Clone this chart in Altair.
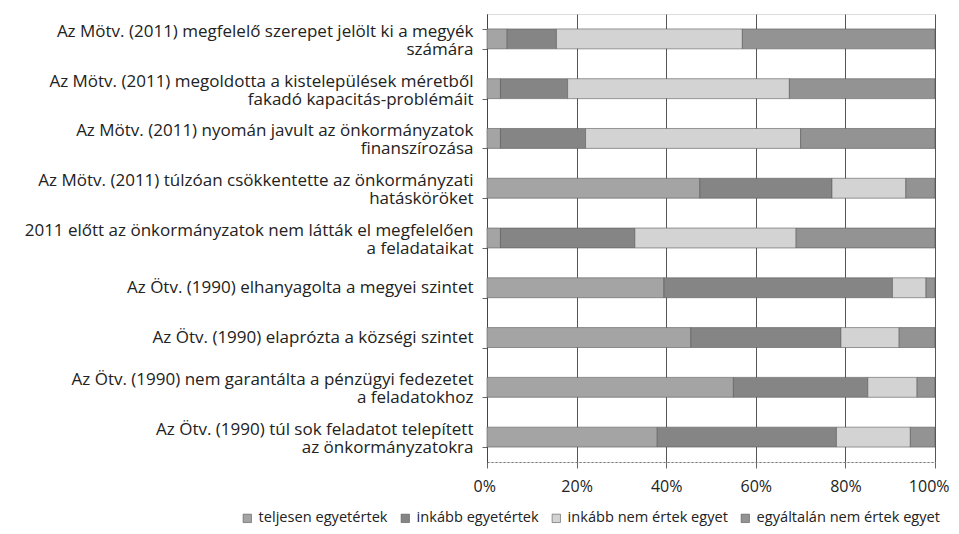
import altair as alt
import pandas as pd

categories = [
    "Az Mötv. (2011) megfelelő szerepet jelölt ki a megyék|számára",
    "Az Mötv. (2011) megoldotta a kistelepülések méretből|fakadó kapacitás-problémáit",
    "Az Mötv. (2011) nyomán javult az önkormányzatok|finanszírozása",
    "Az Mötv. (2011) túlzóan csökkentette az önkormányzati|hatásköröket",
    "2011 előtt az önkormányzatok nem látták el megfelelően|a feladataikat",
    "Az Ötv. (1990) elhanyagolta a megyei szintet",
    "Az Ötv. (1990) elaprózta a községi szintet",
    "Az Ötv. (1990) nem garantálta a pénzügyi fedezetet|a feladatokhoz",
    "Az Ötv. (1990) túl sok feladatot telepített|az önkormányzatokra",
]
series = ["teljesen egyetértek", "inkább egyetértek", "inkább nem értek egyet", "egyáltalán nem értek egyet"]
teljesen = [4.5, 3, 3, 47.5, 3, 39.5, 45.5, 55, 38]
inkabb = [11, 15, 19, 29.5, 30, 51, 33.5, 30, 40]
inkabb_nem = [41.5, 49.5, 48, 16.5, 36, 7.5, 13, 11, 16.5]
egyaltalan = [43, 32.5, 30, 6.5, 31, 2, 8, 4, 5.5]
colors = ["#a4a4a4", "#858585", "#d3d3d3", "#939393"]

rows = []
for i, c in enumerate(categories):
    for j, (s, vals) in enumerate(zip(series, [teljesen, inkabb, inkabb_nem, egyaltalan])):
        rows.append({"kat": c, "sorozat": s, "ertek": vals[i], "rend": j})
df = pd.DataFrame(rows)

font = "Open Sans"
multi = "isValid(datum.value) && indexof(datum.value, '|') >= 0"

chart = alt.Chart(df).mark_bar(stroke="#5a5a5a", strokeWidth=0.6).encode(
    y=alt.Y("kat:N", sort=categories, title=None,
            scale=alt.Scale(paddingInner=0.6, paddingOuter=0.3),
            axis=alt.Axis(labelExpr="isValid(datum.value) ? split(datum.value, '|') : ''",
                          labelFont=font, labelFontSize=17,
                          labelColor="#222", labelLimit=480, labelPadding=9, tickSize=5,
                          labelOffset={"condition": {"test": multi, "value": -7.5}, "value": 0},
                          tickBand="extent", tickColor="#666", domainColor="#444",
                          labelLineHeight=18)),
    x=alt.X("ertek:Q", stack="normalize", title=None,
            scale=alt.Scale(domain=[0, 1], nice=False),
            axis=alt.Axis(format=".0%", values=[0, 0.2, 0.4, 0.6, 0.8, 1.0], labelFont=font,
                          labelFontSize=16, labelColor="#222", labelPadding=10, tickSize=6,
                          tickColor="#666", labelFlush=True, labelFlushOffset=14,
                          grid=True, gridColor="#555", gridWidth=1,
                          domainColor="#777", domainDash=[2, 2])),
    color=alt.Color("sorozat:N", sort=series,
                    scale=alt.Scale(domain=series, range=colors),
                    legend=alt.Legend(title=None, orient="none", direction="horizontal",
                                      legendX=-247, legendY=497, labelFont=font, labelFontSize=14.6,
                                      labelColor="#222", symbolType="square", symbolSize=70,
                                      symbolStrokeColor="#555", symbolStrokeWidth=0.6,
                                      labelLimit=400, columnPadding=10, labelOffset=4)),
    order=alt.Order("rend:Q"),
).properties(
    width=448, height=448,
    autosize=alt.AutoSizeParams(type="none"),
    padding={"left": 479, "top": 6, "right": 14, "bottom": 64},
).configure_view(stroke=None).configure(background="white")

chart.save("out.html", embed_options={"renderer": "svg", "actions": False})
